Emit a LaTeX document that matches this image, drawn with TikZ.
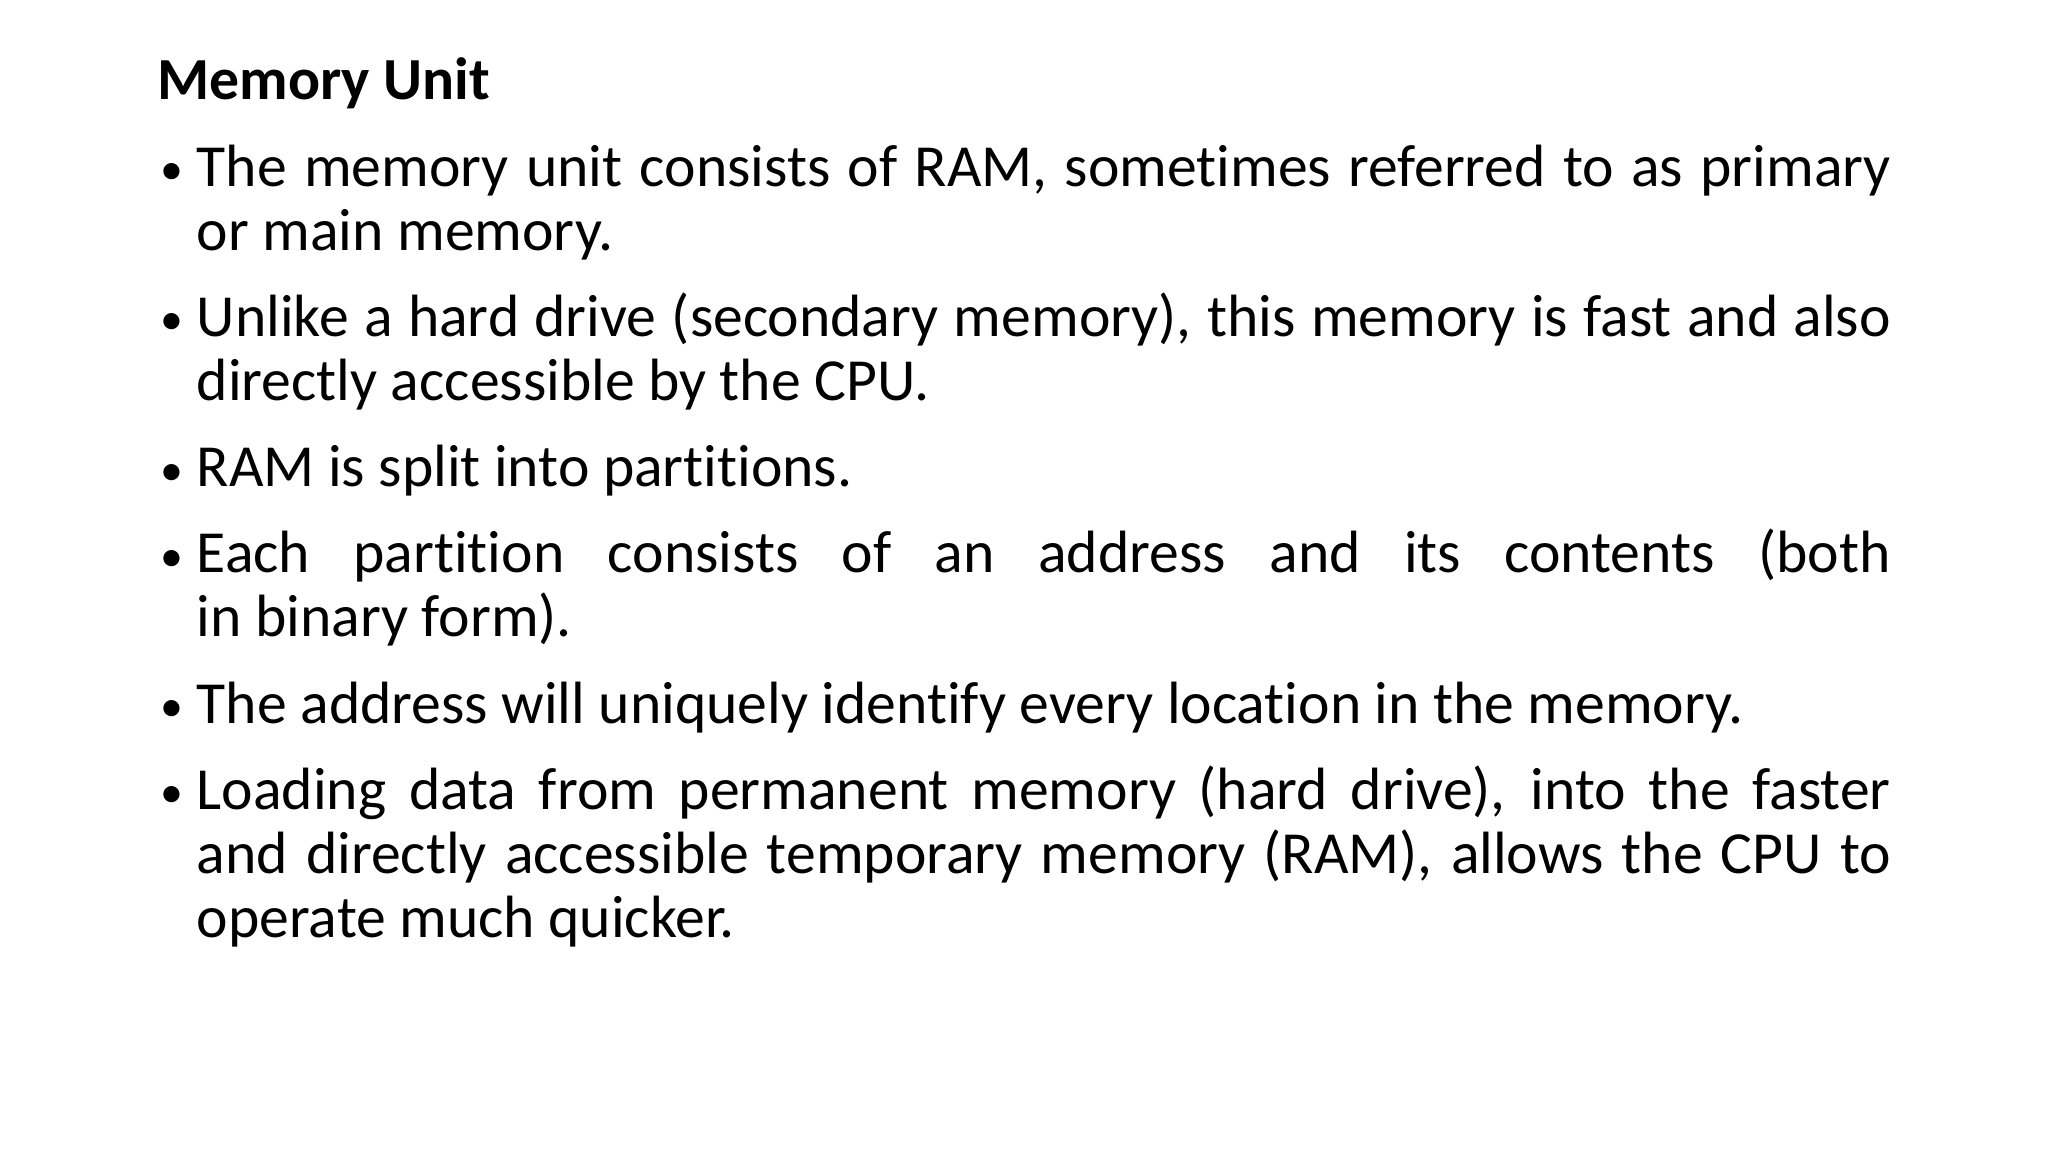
\documentclass[tikz,border=0pt]{standalone}
\usepackage{fontspec}
\setmainfont[Ligatures={NoCommon}]{Carlito}
\newcommand{\bul}[1]{{\fontsize{13}{13.95}\selectfont\hyphenpenalty=10000\exhyphenpenalty=10000\hangindent=2.8mm\hangafter=1\noindent\makebox[2.8mm][l]{\fontsize{10}{12}\selectfont\raisebox{0.3pt}{•}}#1\par}}
\begin{document}
\begin{tikzpicture}[x=1mm,y=-1mm]
\tikzset{body/.style={anchor=north west,inner sep=0,text width=132.5mm,align=justify,font=\fontsize{13}{13.95}\selectfont}}
\useasboundingbox[fill=white] (0,0) rectangle (156.8,88.2);
\node[anchor=base west,inner sep=0,font=\fontsize{13}{15}\selectfont\bfseries] (title) at (12.0,7.6) {Memory Unit};
\node[body] (list) at (12.2,11.0) {%
\setlength{\parskip}{1.7mm}%
\bul{The memory unit consists of RAM, sometimes referred to as primary\linebreak or main memory.}
\bul{Unlike a hard drive (secondary memory), this memory is fast and also\linebreak directly accessible by the CPU.}
\bul{RAM is split into partitions.}
\bul{Each partition consists of an address and its contents (both\linebreak in binary form).}
\bul{The address will uniquely identify every location in the memory.}
\bul{Loading data from permanent memory (hard drive), into the faster\linebreak and directly accessible temporary memory (RAM), allows the CPU to\linebreak operate much quicker.}};
\end{tikzpicture}
\end{document}
